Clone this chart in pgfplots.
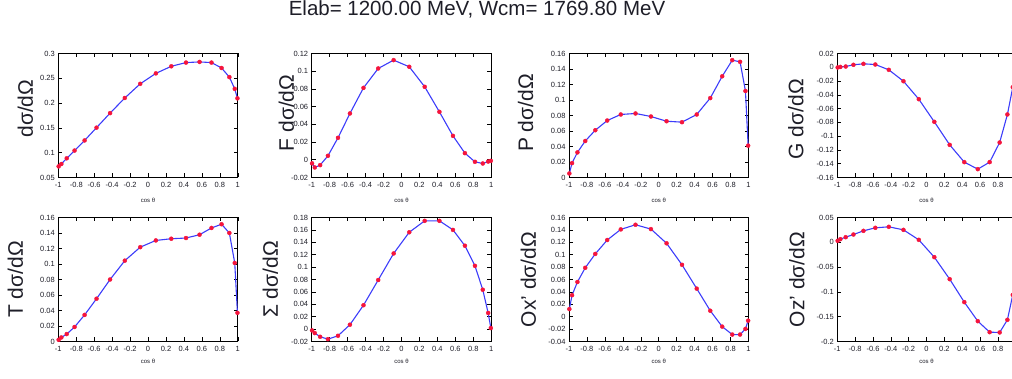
\documentclass[border=0pt]{standalone}
\usepackage{fontspec}
\setmainfont{Liberation Sans}
\usepackage{pgfplots}
\usepackage{pgfplotstable}
\pgfplotsset{compat=1.18}
\definecolor{lineblue}{RGB}{60,60,250}
\definecolor{markred}{RGB}{245,20,60}
\definecolor{txt}{RGB}{30,30,40}

\pgfplotstableread{
x s F P G T S Ox Oz
-0.996 0.0724 -0.0040 0.0052 -0.0003 0.0022 -0.0021 0.0123 0.0030
-0.966 0.0772 -0.0087 0.0186 0.0005 0.0052 -0.0064 0.0347 0.0063
-0.906 0.0887 -0.0060 0.0324 0.0011 0.0096 -0.0124 0.0560 0.0103
-0.819 0.1043 0.0045 0.0471 0.0036 0.0187 -0.0162 0.0789 0.0157
-0.707 0.1247 0.0248 0.0610 0.0050 0.0343 -0.0108 0.1013 0.0231
-0.574 0.1505 0.0523 0.0735 0.0040 0.0552 0.0071 0.1237 0.0292
-0.423 0.1798 0.0812 0.0813 -0.0037 0.0800 0.0385 0.1408 0.0312
-0.259 0.2103 0.1031 0.0826 -0.0202 0.1043 0.0792 0.1483 0.0251
-0.087 0.2389 0.1125 0.0787 -0.0463 0.1217 0.1220 0.1413 0.0050
0.087 0.2599 0.1050 0.0726 -0.0792 0.1304 0.1562 0.1184 -0.0300
0.259 0.2742 0.0824 0.0714 -0.1126 0.1326 0.1746 0.0837 -0.0743
0.423 0.2817 0.0541 0.0813 -0.1377 0.1335 0.1746 0.0453 -0.1207
0.574 0.2830 0.0270 0.1025 -0.1479 0.1378 0.1600 0.0096 -0.1590
0.707 0.2817 0.0075 0.1306 -0.1377 0.1465 0.1345 -0.0160 -0.1812
0.819 0.2708 -0.0023 0.1514 -0.1092 0.1513 0.1020 -0.0288 -0.1818
0.906 0.2524 -0.0042 0.1492 -0.0685 0.1400 0.0635 -0.0288 -0.1563
0.966 0.2287 -0.0020 0.1116 -0.0289 0.1013 0.0260 -0.0197 -0.1059
0.996 0.2096 -0.0012 0.0411 -0.0040 0.0370 0.0017 -0.0064 -0.0387
}\data

\pgfplotsset{
  panel/.style={
    scale only axis, width=179.5pt, height=124pt,
    xmin=-1, xmax=1, clip=false,
    xtick={-1,-0.8,-0.6,-0.4,-0.2,0,0.2,0.4,0.6,0.8,1},
    xticklabels={-1,-0.8,-0.6,-0.4,-0.2,0,0.2,0.4,0.6,0.8,1},
    scaled y ticks=false,
    tick align=inside,
    major tick length=4pt,
    tick style={black, line width=0.6pt},
    axis line style={line width=0.8pt},
    tick label style={font=\fontsize{7.5}{8}\selectfont, text=txt},
    xticklabel style={yshift=-1pt},
    ylabel style={anchor=base, inner sep=0pt, font=\fontsize{21}{24}\selectfont, text=txt},
    xlabel style={at={(axis description cs:0.5,0)}, anchor=center, inner sep=0pt, font=\fontsize{6}{7}\selectfont, text=txt},
    xlabel={cos θ},
  },
  toprow/.style={xlabel style={yshift=-23pt}},
  botrow/.style={xlabel style={yshift=-19.5pt}},
  lastcol/.style={width=178.5pt, xticklabels={-1,-0.8,-0.6,-0.4,-0.2,0,0.2,0.4,0.6,0.8,{}}},
}
\newcommand{\series}[1]{%
  \addplot[only marks, mark=*, mark size=2pt, color=markred] table[x=x,y=#1]{\data};
  \addplot[lineblue, line width=1.1pt, no marks] table[x=x,y=#1]{\data};
}

\begin{document}
\begin{tikzpicture}
\useasboundingbox (0,0) rectangle (1012pt,379pt);
\clip (0,0) rectangle (1012pt,379pt);

\node[anchor=base, font=\fontsize{20.5}{23}\selectfont, text=txt] at (477pt,363pt) {Elab= 1200.00 MeV, Wcm= 1769.80 MeV};

% row 1
\begin{axis}[panel, toprow, at={(58.3pt,201.5pt)}, anchor=south west,
  ymin=0.05, ymax=0.3, ytick={0.05,0.1,0.15,0.2,0.25,0.3},
  yticklabels={0.05,0.1,0.15,0.2,0.25,0.3},
  ylabel={dσ/dΩ}, ylabel style={at={(axis description cs:-0.142,0.555)}}]
\series{s}
\end{axis}

\begin{axis}[panel, toprow, at={(311.7pt,201.5pt)}, anchor=south west,
  ymin=-0.02, ymax=0.12, ytick={-0.02,0,0.02,0.04,0.06,0.08,0.1,0.12},
  yticklabels={-0.02,0,0.02,0.04,0.06,0.08,0.1,0.12},
  ylabel={F dσ/dΩ}, ylabel style={at={(axis description cs:-0.1,0.52)}}]
\series{F}
\end{axis}

\begin{axis}[panel, toprow, at={(569pt,201.5pt)}, anchor=south west,
  ymin=0, ymax=0.16, ytick={0,0.02,0.04,0.06,0.08,0.1,0.12,0.14,0.16},
  yticklabels={0,0.02,0.04,0.06,0.08,0.1,0.12,0.14,0.16},
  ylabel={P dσ/dΩ}, ylabel style={at={(axis description cs:-0.2,0.52)}}]
\series{P}
\end{axis}

\begin{axis}[panel, toprow, lastcol, at={(837.3pt,201.5pt)}, anchor=south west,
  ymin=-0.16, ymax=0.02, ytick={-0.16,-0.14,-0.12,-0.1,-0.08,-0.06,-0.04,-0.02,0,0.02},
  yticklabels={-0.16,-0.14,-0.12,-0.1,-0.08,-0.06,-0.04,-0.02,0,0.02},
  ylabel={G dσ/dΩ}, ylabel style={at={(axis description cs:-0.19,0.47)}}]
\series{G}
\end{axis}

% row 2
\begin{axis}[panel, botrow, at={(58.3pt,37.5pt)}, anchor=south west,
  ymin=0, ymax=0.16, ytick={0,0.02,0.04,0.06,0.08,0.1,0.12,0.14,0.16},
  yticklabels={0,0.02,0.04,0.06,0.08,0.1,0.12,0.14,0.16},
  ylabel={T dσ/dΩ}, ylabel style={at={(axis description cs:-0.198,0.5)}}]
\series{T}
\end{axis}

\begin{axis}[panel, botrow, at={(311.7pt,37.5pt)}, anchor=south west,
  ymin=-0.02, ymax=0.18, ytick={-0.02,0,0.02,0.04,0.06,0.08,0.1,0.12,0.14,0.16,0.18},
  yticklabels={-0.02,0,0.02,0.04,0.06,0.08,0.1,0.12,0.14,0.16,0.18},
  ylabel={Σ dσ/dΩ}, ylabel style={at={(axis description cs:-0.188,0.5)}}]
\series{S}
\end{axis}

\begin{axis}[panel, botrow, at={(569pt,37.5pt)}, anchor=south west,
  ymin=-0.04, ymax=0.16, ytick={-0.04,-0.02,0,0.02,0.04,0.06,0.08,0.1,0.12,0.14,0.16},
  yticklabels={-0.04,-0.02,0,0.02,0.04,0.06,0.08,0.1,0.12,0.14,0.16},
  ylabel={Ox' dσ/dΩ}, ylabel style={at={(axis description cs:-0.184,0.5)}}]
\series{Ox}
\end{axis}

\begin{axis}[panel, botrow, lastcol, at={(837.3pt,37.5pt)}, anchor=south west,
  ymin=-0.2, ymax=0.05, ytick={-0.2,-0.15,-0.1,-0.05,0,0.05},
  yticklabels={-0.2,-0.15,-0.1,-0.05,0,0.05},
  ylabel={Oz' dσ/dΩ}, ylabel style={at={(axis description cs:-0.185,0.5)}}]
\series{Oz}
\end{axis}
\end{tikzpicture}
\end{document}
